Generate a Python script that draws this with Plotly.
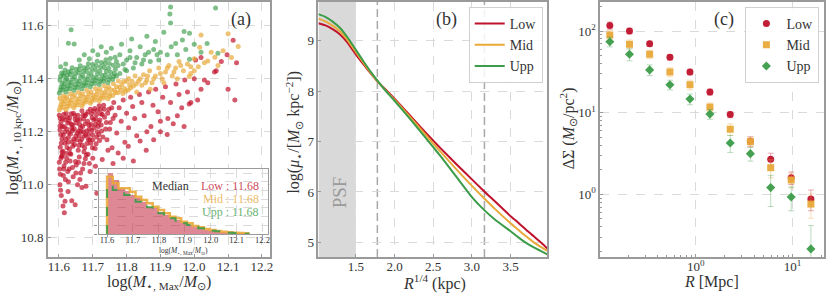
import plotly.graph_objects as go

FONT = "Liberation Serif"
RED = "#C0122C"
ORANGE = "#E8A93A"
GREEN = "#3C9C4A"
FRAME = "#9a9a9a"
GRID = "#dadada"

# ---------------- panel (a): scatter ----------------
LOW_PTS = [
    (11.601, 11.262), (11.606, 11.236), (11.603, 11.207), (11.609, 11.174), (11.604, 11.142), (11.608, 11.108),
    (11.611, 11.25), (11.616, 11.219), (11.613, 11.188), (11.618, 11.157), (11.612, 11.127), (11.615, 11.071),
    (11.621, 11.271), (11.626, 11.233), (11.623, 11.21), (11.628, 11.178), (11.624, 11.141),
    (11.632, 11.253), (11.637, 11.228), (11.634, 11.192), (11.639, 11.162), (11.633, 11.118),
    (11.643, 11.27), (11.648, 11.246), (11.645, 11.211), (11.65, 11.184), (11.646, 11.152), (11.649, 11.088),
    (11.656, 11.262), (11.661, 11.228), (11.658, 11.203), (11.663, 11.163), (11.657, 11.13),
    (11.668, 11.279), (11.673, 11.248), (11.67, 11.22), (11.675, 11.183), (11.669, 11.149),
    (11.68, 11.266), (11.685, 11.24), (11.682, 11.203), (11.687, 11.172), (11.681, 11.112),
    (11.693, 11.285), (11.698, 11.253), (11.695, 11.227), (11.7, 11.188), (11.694, 11.157),
    (11.706, 11.288), (11.711, 11.264), (11.708, 11.228), (11.713, 11.2), (11.707, 11.137),
    (11.719, 11.298), (11.724, 11.268), (11.721, 11.244), (11.726, 11.203), (11.72, 11.167),
    (11.604, 11.25), (11.618, 11.245), (11.63, 11.24), (11.64, 11.225), (11.655, 11.245), (11.665, 11.2),
    (11.677, 11.26), (11.69, 11.21), (11.703, 11.245), (11.716, 11.22), (11.606, 11.19), (11.627, 11.16),
    (11.652, 11.17), (11.676, 11.14), (11.7, 11.17), (11.61, 11.22), (11.64, 11.205), (11.66, 11.185),
    (11.688, 11.19), (11.712, 11.18),
    (11.603, 11.222), (11.607, 11.158), (11.609, 11.124), (11.614, 11.265), (11.617, 11.2), (11.62, 11.172),
    (11.622, 11.118), (11.625, 11.255), (11.629, 11.197), (11.631, 11.134), (11.636, 11.268), (11.638, 11.213),
    (11.641, 11.145), (11.644, 11.173), (11.647, 11.26), (11.651, 11.233), (11.654, 11.195), (11.659, 11.148),
    (11.662, 11.246), (11.664, 11.215), (11.667, 11.172), (11.671, 11.262), (11.672, 11.2), (11.674, 11.125),
    (11.678, 11.23), (11.679, 11.188), (11.683, 11.156), (11.686, 11.275), (11.689, 11.225), (11.691, 11.17),
    (11.696, 11.268), (11.697, 11.205), (11.699, 11.14), (11.702, 11.278), (11.704, 11.215), (11.709, 11.248),
    (11.71, 11.155), (11.714, 11.28), (11.717, 11.235), (11.718, 11.19), (11.723, 11.285), (11.725, 11.225),
    (11.728, 11.265), (11.73, 11.18), (11.734, 11.285), (11.74, 11.235), (11.744, 11.27), (11.75, 11.21),
    (11.756, 11.29), (11.76, 11.25),
    (11.732, 11.3), (11.735, 11.255), (11.738, 11.21), (11.742, 11.17), (11.748, 11.285), (11.752, 11.235),
    (11.757, 11.14), (11.762, 11.31), (11.766, 11.262), (11.771, 11.195), (11.778, 11.29), (11.784, 11.24),
    (11.79, 11.32), (11.795, 11.16), (11.8, 11.27), (11.806, 11.215), (11.812, 11.33), (11.818, 11.295),
    (11.824, 11.25), (11.83, 11.185), (11.838, 11.34), (11.845, 11.31), (11.852, 11.26), (11.858, 11.13),
    (11.865, 11.35), (11.872, 11.22), (11.878, 11.3), (11.886, 11.36), (11.893, 11.275), (11.9, 11.2),
    (11.907, 11.33), (11.915, 11.37), (11.922, 11.25), (11.93, 11.31), (11.938, 11.23), (11.946, 11.38),
    (11.955, 11.34), (11.963, 11.29), (11.972, 11.395), (11.98, 11.35), (11.99, 11.31), (12.0, 11.4),
    (12.01, 11.32), (12.02, 11.36), (12.03, 11.395), (12.04, 11.385), (12.06, 11.425), (12.08, 11.465),
    (12.1, 11.36), (12.12, 11.32), (12.125, 11.46), (12.115, 11.545), (12.065, 11.43), (12.097, 11.49),
    (12.02, 11.48), (12.004, 11.47), (11.985, 11.305),
    (11.601, 11.085), (11.604, 11.04), (11.603, 11.0), (11.607, 10.96), (11.61, 11.11), (11.614, 11.06),
    (11.616, 10.895), (11.619, 11.02), (11.623, 11.1), (11.627, 10.975), (11.63, 11.06), (11.635, 11.115),
    (11.638, 10.94), (11.642, 11.03), (11.648, 10.925), (11.651, 11.075), (11.655, 11.0), (11.66, 11.105),
    (11.664, 11.045), (11.668, 10.99), (11.674, 11.08), (11.68, 10.995), (11.686, 11.115), (11.692, 11.05),
    (11.7, 11.1), (11.712, 10.968), (11.708, 11.07), (11.618, 10.938),
    (11.602, 11.06), (11.606, 11.1), (11.613, 11.035), (11.62, 11.085), (11.626, 11.05), (11.633, 11.09),
    (11.64, 11.065), (11.65, 11.045), (11.658, 11.085), (11.67, 11.06), (11.678, 11.098), (11.69, 11.08),
    (11.605, 10.98), (11.612, 10.92), (11.628, 11.012), (11.662, 11.02),
    (11.728, 11.095), (11.745, 11.13), (11.76, 11.08), (11.775, 11.12), (11.79, 11.1), (11.805, 11.145),
    (11.82, 11.09), (11.84, 11.165), (11.86, 11.2), (11.88, 11.17), (11.9, 11.24), (11.92, 11.19),
    (11.95, 11.26), (11.97, 11.22),
]
MID_PTS = [
    (11.601, 11.282), (11.606, 11.303), (11.603, 11.327), (11.611, 11.29), (11.616, 11.316), (11.613, 11.336),
    (11.621, 11.284), (11.626, 11.306), (11.623, 11.331), (11.632, 11.297), (11.637, 11.318), (11.634, 11.343),
    (11.644, 11.29), (11.649, 11.31), (11.646, 11.339), (11.656, 11.301), (11.661, 11.323), (11.658, 11.349),
    (11.668, 11.297), (11.673, 11.316), (11.67, 11.343), (11.68, 11.312), (11.685, 11.331), (11.682, 11.356),
    (11.693, 11.307), (11.698, 11.326), (11.695, 11.351), (11.706, 11.32), (11.711, 11.34), (11.708, 11.363),
    (11.719, 11.316), (11.724, 11.335), (11.721, 11.361), (11.732, 11.327), (11.737, 11.348), (11.734, 11.373),
    (11.745, 11.324), (11.75, 11.343), (11.747, 11.369), (11.759, 11.337), (11.764, 11.356), (11.761, 11.381),
    (11.774, 11.347), (11.779, 11.368), (11.776, 11.391), (11.789, 11.344), (11.794, 11.363), (11.791, 11.389),
    (11.804, 11.357), (11.809, 11.376), (11.806, 11.401),
    (11.604, 11.293), (11.608, 11.316), (11.614, 11.305), (11.618, 11.327), (11.624, 11.295), (11.629, 11.319),
    (11.635, 11.308), (11.64, 11.332), (11.647, 11.3), (11.652, 11.324), (11.659, 11.312), (11.664, 11.336),
    (11.671, 11.306), (11.676, 11.33), (11.683, 11.321), (11.688, 11.343), (11.696, 11.315), (11.701, 11.338),
    (11.709, 11.329), (11.714, 11.352), (11.722, 11.325), (11.727, 11.348), (11.736, 11.338), (11.741, 11.36),
    (11.75, 11.334), (11.754, 11.358), (11.767, 11.347), (11.77, 11.37), (11.782, 11.356), (11.786, 11.378),
    (11.797, 11.353), (11.8, 11.39), (11.812, 11.365), (11.816, 11.39), (11.828, 11.38), (11.84, 11.4),
    (11.856, 11.385), (11.862, 11.41), (11.88, 11.4), (11.9, 11.42), (11.92, 11.44), (11.94, 11.425),
    (11.96, 11.45),
    (11.82, 11.372), (11.825, 11.41), (11.835, 11.39), (11.845, 11.375), (11.85, 11.415), (11.86, 11.395),
    (11.868, 11.43), (11.875, 11.385), (11.885, 11.41), (11.895, 11.44), (11.905, 11.4), (11.915, 11.425),
    (11.925, 11.45), (11.935, 11.41), (11.945, 11.44), (11.955, 11.465), (11.968, 11.43), (11.98, 11.455),
    (11.99, 11.42), (12.0, 11.475), (12.012, 11.445), (12.016, 11.518), (12.02, 11.565), (12.03, 11.46),
    (12.04, 11.467), (12.05, 11.5), (12.061, 11.481), (12.07, 11.45), (12.085, 11.505), (12.1, 11.569),
    (12.13, 11.521), (12.11, 11.48), (11.83, 11.35), (11.87, 11.36), (11.91, 11.385), (11.95, 11.4),
    (11.99, 11.445), (12.0, 11.43), (11.985, 11.408),
]
UPP_PTS = [
    (11.601, 11.346), (11.606, 11.369), (11.603, 11.396), (11.608, 11.421),
    (11.611, 11.357), (11.616, 11.38), (11.613, 11.411), (11.618, 11.433),
    (11.621, 11.35), (11.626, 11.373), (11.623, 11.401), (11.628, 11.426),
    (11.632, 11.362), (11.637, 11.386), (11.634, 11.416), (11.639, 11.441),
    (11.644, 11.356), (11.649, 11.378), (11.646, 11.406), (11.651, 11.436),
    (11.656, 11.367), (11.661, 11.39), (11.658, 11.421), (11.663, 11.449),
    (11.668, 11.362), (11.673, 11.384), (11.67, 11.413), (11.675, 11.441),
    (11.68, 11.374), (11.685, 11.396), (11.682, 11.426), (11.687, 11.456),
    (11.693, 11.37), (11.698, 11.392), (11.695, 11.421), (11.7, 11.453),
    (11.706, 11.382), (11.711, 11.403), (11.708, 11.433), (11.713, 11.466),
    (11.719, 11.378), (11.724, 11.398), (11.721, 11.429), (11.726, 11.461),
    (11.732, 11.39), (11.737, 11.413), (11.734, 11.441), (11.739, 11.471),
    (11.745, 11.386), (11.75, 11.408), (11.747, 11.439), (11.752, 11.476),
    (11.759, 11.397), (11.764, 11.42), (11.761, 11.451), (11.766, 11.481),
    (11.604, 11.357), (11.609, 11.383), (11.605, 11.408), (11.614, 11.368), (11.619, 11.395), (11.615, 11.42),
    (11.624, 11.362), (11.629, 11.388), (11.625, 11.414), (11.635, 11.374), (11.64, 11.4), (11.636, 11.428),
    (11.647, 11.367), (11.652, 11.392), (11.648, 11.42), (11.659, 11.378), (11.664, 11.405), (11.66, 11.435),
    (11.671, 11.374), (11.676, 11.4), (11.672, 11.428), (11.683, 11.385), (11.688, 11.41), (11.684, 11.441),
    (11.696, 11.381), (11.701, 11.406), (11.697, 11.437), (11.709, 11.393), (11.714, 11.418), (11.71, 11.449),
    (11.722, 11.389), (11.727, 11.413), (11.723, 11.445), (11.735, 11.401), (11.74, 11.427), (11.736, 11.456),
    (11.748, 11.397), (11.753, 11.424), (11.749, 11.457), (11.762, 11.408), (11.767, 11.436), (11.77, 11.465),
    (11.78, 11.42), (11.79, 11.455), (11.8, 11.43), (11.81, 11.48), (11.825, 11.46), (11.85, 11.47),
    (11.865, 11.5), (11.89, 11.49),
    (11.605, 11.445), (11.62, 11.455), (11.628, 11.534), (11.636, 11.584), (11.645, 11.531), (11.66, 11.47),
    (11.675, 11.49), (11.69, 11.475), (11.7, 11.505), (11.715, 11.49), (11.725, 11.52), (11.74, 11.5),
    (11.755, 11.515), (11.77, 11.41), (11.775, 11.45), (11.78, 11.49), (11.785, 11.53), (11.795, 11.435),
    (11.8, 11.47), (11.81, 11.505), (11.815, 11.55), (11.82, 11.44), (11.83, 11.48), (11.84, 11.52),
    (11.845, 11.455), (11.855, 11.49), (11.86, 11.56), (11.87, 11.465), (11.88, 11.51), (11.885, 11.54),
    (11.895, 11.47), (11.9, 11.5), (11.91, 11.575), (11.92, 11.49), (11.928, 11.644), (11.93, 11.67),
    (11.93, 11.61), (11.932, 11.52), (11.945, 11.533), (11.95, 11.49), (11.965, 11.546), (11.97, 11.578),
    (11.975, 11.51), (11.986, 11.571), (11.986, 11.473), (12.0, 11.53), (12.02, 11.5), (12.038, 11.533),
    (12.063, 11.666), (12.07, 11.496),
]

# ---------------- inset histogram ----------------
HIST_START = 11.6
HIST_WIDTH = 0.022
HIST_LOW = [60.7, 54, 46.3, 43, 39, 35.7, 32.3, 27.3, 25.7, 22.3, 19, 16.7, 14, 11.7, 9, 7.3, 5.7, 4.3, 3.3, 2.3, 1.7, 1.3, 1, 0.7, 0.3]
HIST_MID = [57.3, 50.7, 45.7, 45.7, 42.3, 37.3, 34, 30.7, 27.3, 24, 20.7, 17.3, 15.7, 12.3, 10.7, 8, 6.7, 5, 4, 3, 2.3, 1.7, 1.3, 1, 0.7]
HIST_UPP = [48.3, 44, 42.3, 39, 35.7, 32.3, 30, 26.7, 23.3, 20.7, 18.3, 15.7, 13.3, 10.7, 9, 7.3, 5.7, 4.3, 3.3, 2.7, 2, 1.3, 1, 0.7, 0.3]
MEDIANS = {"Low": "11.68", "Mid": "11.68", "Upp": "11.68"}

# ---------------- panel (b): profiles ----------------
R14 = [1.017, 1.1, 1.2, 1.3, 1.4, 1.5, 1.6, 1.7, 1.8, 1.9, 2.0, 2.2, 2.4, 2.5, 2.6, 2.8, 3.0, 3.16, 3.3, 3.5, 3.6, 3.7, 3.8, 3.9, 3.975]
MU_LOW = [9.35, 9.31, 9.23, 9.12, 8.95, 8.73, 8.53, 8.34, 8.16, 8.01, 7.85, 7.52, 7.18, 7.02, 6.86, 6.55, 6.25, 6.01, 5.81, 5.52, 5.39, 5.25, 5.12, 4.99, 4.88]
MU_MID = [9.44, 9.39, 9.30, 9.18, 9.00, 8.78, 8.56, 8.35, 8.16, 7.99, 7.83, 7.49, 7.14, 6.96, 6.79, 6.45, 6.12, 5.87, 5.66, 5.38, 5.25, 5.12, 5.00, 4.90, 4.83]
MU_UPP = [9.53, 9.48, 9.38, 9.25, 9.05, 8.82, 8.59, 8.37, 8.17, 7.98, 7.81, 7.45, 7.08, 6.89, 6.70, 6.30, 5.90, 5.64, 5.45, 5.22, 5.10, 4.99, 4.90, 4.82, 4.76]
PSF_EDGE = 1.5
REF_LINES = [1.778, 3.162]

# ---------------- panel (c): lensing ----------------
R_MPC = [0.129, 0.206, 0.333, 0.54, 0.87, 1.40, 2.27, 3.67, 5.95, 9.7, 15.5]
DS_LOW = [117, 100, 70, 47.7, 31.5, 17.9, 9.47, 4.47, 2.69, 1.60, 0.88]
DS_MID = [89.3, 68.7, 51.9, 31.5, 22.0, 11.7, 6.27, 4.42, 2.12, 1.50, 0.76]
DS_UPP = [74, 51.9, 33.4, 22, 14.7, 9.6, 4.26, 3.15, 1.21, 0.93, 0.215]
ERR_LOW = [12, 8, 5, 3.5, 2.5, 1.5, 0.8, 0.6, 0.5, 0.28, 0.25]
ERR_MID = [12, 9, 6, 4, 3, 1.4, 1.0, 0.6, 0.53, 0.3, 0.25]
ERR_UPP = [10, 8.8, 5, 3, 2.2, 1.3, 1.0, 0.6, 0.5, 0.3, 0.2]


def rgba(hexc, a):
    h = hexc.lstrip("#")
    return "rgba(%d,%d,%d,%s)" % (int(h[0:2], 16), int(h[2:4], 16), int(h[4:6], 16), a)


W, H = 830, 294
def px(x): return x / W
def py(y): return 1 - y / H

fig = go.Figure()

# panel a scatter
for pts, col, op in [(LOW_PTS, RED, 0.7), (MID_PTS, ORANGE, 0.7), (UPP_PTS, GREEN, 0.65)]:
    xs, ys = zip(*pts)
    fig.add_trace(go.Scatter(x=xs, y=ys, mode="markers", xaxis="x", yaxis="y",
                             marker=dict(size=5, color=rgba(col, op), line=dict(width=0)),
                             showlegend=False, hoverinfo="skip"))

# inset histogram
n = len(HIST_LOW)
centers = [HIST_START + HIST_WIDTH * (i + 0.5) for i in range(n)]
edges = [HIST_START + HIST_WIDTH * i for i in range(n + 1)]
fig.add_trace(go.Bar(x=centers, y=HIST_LOW, width=[HIST_WIDTH] * n, xaxis="x4", yaxis="y4",
                     marker=dict(color=rgba(RED, 0.5), line=dict(width=0)), showlegend=False))
for vals, col, dash, wd in [(HIST_MID, ORANGE, "solid", 2.5), (HIST_UPP, GREEN, "dash", 2)]:
    sx = [edges[0]] + edges
    sy = [0] + vals + [vals[-1]]
    fig.add_trace(go.Scatter(x=sx, y=sy, mode="lines", line=dict(color=rgba(col, 0.9), width=wd, dash=dash, shape="hv"),
                             xaxis="x4", yaxis="y4", showlegend=False, hoverinfo="skip"))

# panel b profiles
for vals, col, name in [(MU_LOW, RED, "Low"), (MU_MID, ORANGE, "Mid"), (MU_UPP, GREEN, "Upp")]:
    fig.add_trace(go.Scatter(x=R14, y=vals, mode="lines", name=name, xaxis="x2", yaxis="y2",
                             line=dict(color=col, width=2, shape="spline", smoothing=0.5), legend="legend"))

# panel c lensing
for vals, err, col, sym, name in [(DS_LOW, ERR_LOW, RED, "circle", "Low"),
                                   (DS_MID, ERR_MID, ORANGE, "square", "Mid"),
                                   (DS_UPP, ERR_UPP, GREEN, "diamond", "Upp")]:
    fig.add_trace(go.Scatter(x=R_MPC, y=vals, mode="markers", name=name, xaxis="x3", yaxis="y3",
                             marker=dict(symbol=sym, size=7, color=rgba(col, 0.95), line=dict(width=0)),
                             error_y=dict(type="data", array=err, color=rgba(col, 0.35), thickness=1, width=3),
                             legend="legend2"))

tickfont = dict(family=FONT, size=13, color="#333")
base = dict(showline=True, linecolor=FRAME, linewidth=1.5, mirror=True, ticks="inside", ticklen=3,
            tickcolor=FRAME, showgrid=True, gridcolor=GRID, griddash="dash", gridwidth=1,
            zeroline=False, tickfont=tickfont)

ydom = [py(257), py(2)]
fig.update_layout(
    width=W, height=H, margin=dict(l=0, r=0, t=0, b=0),
    paper_bgcolor="white", plot_bgcolor="white",
    font=dict(family=FONT, color="#333"),
    xaxis=dict(base, domain=[px(48), px(271)], range=[11.567, 12.223], dtick=0.1, tick0=11.6, tickformat=".1f",
               anchor="y", ticklabelstandoff=-3),
    yaxis=dict(base, domain=ydom, range=[10.728, 11.689], dtick=0.2, tick0=10.8, tickformat=".1f", anchor="x"),
    xaxis2=dict(base, domain=[px(320), px(550)], range=[1.017, 3.975], tickvals=[1.5, 2.0, 2.5, 3.0, 3.5],
                tickformat=".1f", anchor="y2", ticklabelstandoff=-3),
    yaxis2=dict(base, domain=ydom, range=[4.71, 9.77], tickvals=[5, 6, 7, 8, 9], anchor="x2"),
    xaxis3=dict(base, domain=[px(603), px(828)], type="log", range=[-0.99, 1.326], tickvals=[0.1, 1, 10],
                ticktext=["10<sup>−1</sup>", "10<sup>0</sup>", "10<sup>1</sup>"], anchor="y3", ticklabelstandoff=-3,
                minor=dict(ticks="inside", ticklen=2, tickcolor=FRAME, showgrid=False,
                           tickvals=[0.2, 0.3, 0.4, 0.5, 0.6, 0.7, 0.8, 0.9, 2, 3, 4, 5, 6, 7, 8, 9, 20])),
    yaxis3=dict(base, domain=ydom, type="log", range=[-0.767, 2.355], tickvals=[1, 10, 100],
                ticktext=["10<sup>0</sup>", "10<sup>1</sup>", "10<sup>2</sup>"], anchor="x3",
                minor=dict(ticks="inside", ticklen=2, tickcolor=FRAME, showgrid=False,
                           tickvals=[0.2, 0.3, 0.4, 0.5, 0.6, 0.7, 0.8, 0.9, 2, 3, 4, 5, 6, 7, 8, 9,
                                     20, 30, 40, 50, 60, 70, 80, 90, 200])),
    xaxis4=dict(base, domain=[px(99), px(269)], range=[11.567, 12.22], dtick=0.1, tick0=11.6, tickformat=".1f",
                anchor="y4", linewidth=1.2, ticks="outside", ticklen=2, ticklabelstandoff=-4,
                tickfont=dict(family=FONT, size=8.5, color="#333")),
    yaxis4=dict(base, domain=[py(234), py(169)], range=[0, 65], dtick=8.7, anchor="x4", linewidth=1.2,
                ticks="outside", ticklen=3, showticklabels=False),
    bargap=0,
    legend=dict(x=px(471), y=py(7), xanchor="left", yanchor="top", bordercolor="#d0d0d0", borderwidth=1,
                bgcolor="rgba(255,255,255,0.85)", font=dict(family=FONT, size=14, color="#333"), itemwidth=30,
                tracegroupgap=0),
    legend2=dict(x=px(749), y=py(7), xanchor="left", yanchor="top", bordercolor="#d0d0d0", borderwidth=1,
                 bgcolor="rgba(255,255,255,0.85)", font=dict(family=FONT, size=14, color="#333"), itemwidth=30,
                 tracegroupgap=0),
)

# shapes
fig.add_shape(type="rect", xref="x2", yref="paper", x0=1.017, x1=PSF_EDGE, y0=ydom[0], y1=ydom[1],
              fillcolor="#d9d9d9", line=dict(width=0), layer="below")
for xv in REF_LINES:
    fig.add_shape(type="line", xref="x2", yref="paper", x0=xv, x1=xv, y0=ydom[0], y1=ydom[1],
                  line=dict(color="#a8a8a8", width=1.5, dash="8px,4px"), layer="below")
fig.add_shape(type="rect", xref="paper", yref="paper", x0=px(99), x1=px(269), y0=py(234), y1=py(169),
              fillcolor="white", line=dict(width=0), layer="between")

# annotations
def ann(text, x, y, size, color="#333", angle=0, xanchor="center", yanchor="middle"):
    fig.add_annotation(text=text, x=px(x), y=py(y), xref="paper", yref="paper", showarrow=False,
                       font=dict(family=FONT, size=size, color=color), textangle=angle,
                       xanchor=xanchor, yanchor=yanchor)

M = "<i>M</i>"
ann("log(" + M + "<sub>⋆, Max</sub>/" + M + "<sub>⊙</sub>)", 160, 282, 16)
ann("log(" + M + "<sub>⋆, 10 kpc</sub>/" + M + "<sub>⊙</sub>)", 13, 138, 16, angle=-90)
ann("log(<i>μ</i><sub>⋆</sub>/[" + M + "<sub>⊙</sub> kpc<sup>−2</sup>])", 295, 132, 16, angle=-90)
ann("<i>R</i><sup>1/4</sup> (kpc)", 437, 282, 16)
ann("ΔΣ (" + M + "<sub>⊙</sub>/pc<sup>2</sup>)", 571, 128, 16, angle=-90)
ann("<i>R</i> [Mpc]", 715, 282, 16)
ann("(a)", 242, 20, 18)
ann("(b)", 449, 20, 18)
ann("(c)", 728, 20, 18)
ann("PSF", 342, 192, 19, color="#9a9a9a", angle=-90)
ann("log(" + M + "<sub>⋆, Max</sub>/" + M + "<sub>⊙</sub>)", 184, 251, 7.5)
ann("Median", 171, 186, 12)
ann("Low : " + MEDIANS["Low"], 262, 186, 12, color=rgba(RED, 0.8), xanchor="right")
ann("Mid : " + MEDIANS["Mid"], 262, 199, 12, color=rgba(ORANGE, 0.8), xanchor="right")
ann("Upp : " + MEDIANS["Upp"], 262, 212, 12, color=rgba(GREEN, 0.8), xanchor="right")

fig.write_html("out.html", config={"displayModeBar": False},
               post_script="document.body.style.margin='0px';")
